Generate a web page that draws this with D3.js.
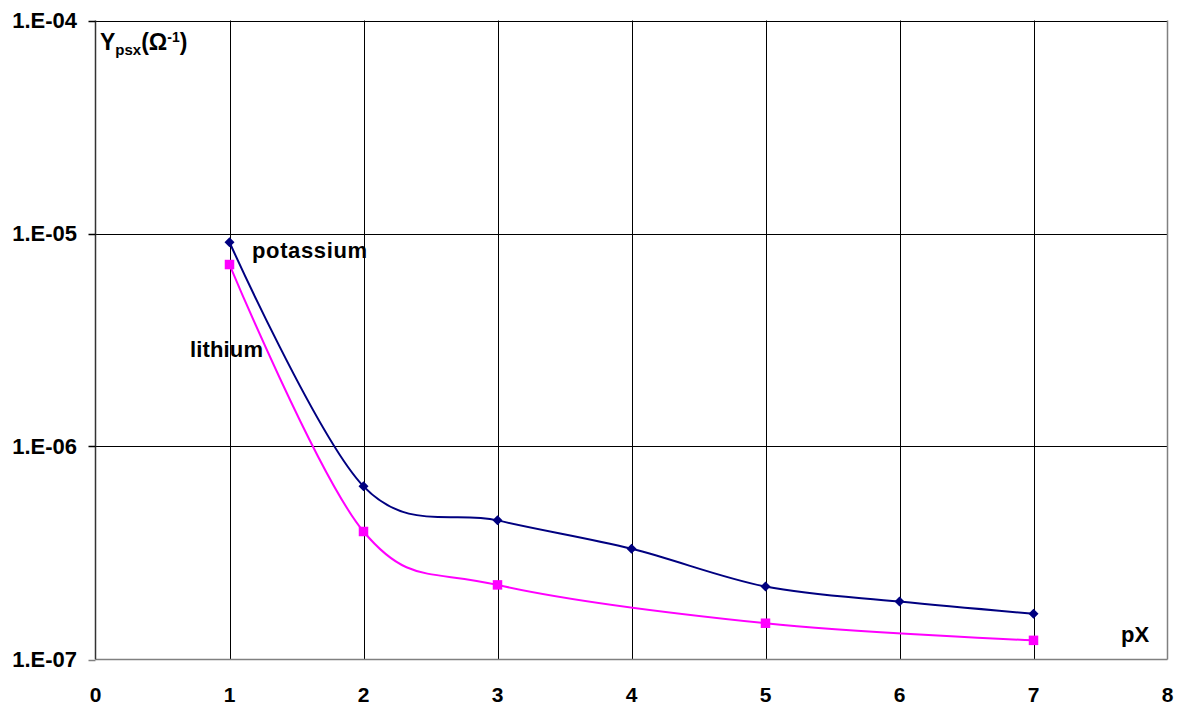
<!DOCTYPE html>
<html>
<head>
<meta charset="utf-8">
<script src="https://cdn.jsdelivr.net/npm/d3@7"></script>
<style>
  html, body { margin: 0; padding: 0; background: #fff; }
  svg { display: block; }
  text { font-family: "Liberation Sans", Arial, sans-serif; font-weight: bold; fill: #000; }
</style>
</head>
<body>
<svg id="chart" width="1179" height="707"></svg>
<script>
// ---- data ----
const potassiumX = [1, 2, 3, 4, 5, 6, 7];
const potassiumY = [9.1e-6, 6.5e-7, 4.5e-7, 3.31e-7, 2.2e-7, 1.87e-7, 1.64e-7];
const lithiumX = [1, 2, 3, 5, 7];
const lithiumY = [7.15e-6, 3.99e-7, 2.24e-7, 1.48e-7, 1.23e-7];
const xTicks = [0, 1, 2, 3, 4, 5, 6, 7, 8];
const yTicks = [1e-4, 1e-5, 1e-6, 1e-7];
const yTickLabels = ["1.E-04", "1.E-05", "1.E-06", "1.E-07"];

(function () {
// ---- layout ----
const pL = 95.5, pR = 1167.5, pT = 20.5, pB = 659.5;
const svg = d3.select("#chart");

const x = d3.scaleLinear().domain([0, 8]).range([pL, pR]);
const y = d3.scaleLog().domain([1e-7, 1e-4]).range([pB, pT]);

// gridlines
const g = svg.append("g");
g.selectAll("line.vg").data(xTicks.filter(d => d > 0 && d < 8)).enter().append("line")
  .attr("x1", d => Math.round(x(d)) + 0.5).attr("x2", d => Math.round(x(d)) + 0.5)
  .attr("y1", pT).attr("y2", pB)
  .attr("stroke", "#000").attr("stroke-width", 1);
g.selectAll("line.hg").data(yTicks.filter(d => d > 1e-7)).enter().append("line")
  .attr("x1", pL).attr("x2", pR)
  .attr("y1", d => Math.round(y(d)) + 0.5).attr("y2", d => Math.round(y(d)) + 0.5)
  .attr("stroke", "#000").attr("stroke-width", 1);

// frame: right & bottom gray, left black
svg.append("line").attr("x1", pR).attr("x2", pR).attr("y1", pT).attr("y2", pB)
  .attr("stroke", "#808080").attr("stroke-width", 1.5);
svg.append("line").attr("x1", pL).attr("x2", pR).attr("y1", pB).attr("y2", pB)
  .attr("stroke", "#808080").attr("stroke-width", 1.5);
svg.append("line").attr("x1", pL).attr("x2", pL).attr("y1", pT).attr("y2", pB)
  .attr("stroke", "#333").attr("stroke-width", 1.5);

// y ticks
svg.selectAll("line.yt").data(yTicks).enter().append("line")
  .attr("x1", pL - 7).attr("x2", pL)
  .attr("y1", d => Math.round(y(d)) + 0.5).attr("y2", d => Math.round(y(d)) + 0.5)
  .attr("stroke", d => d === 1e-7 ? "#808080" : "#000").attr("stroke-width", 1.5);
svg.selectAll("text.yl").data(yTicks).enter().append("text")
  .attr("x", 77).attr("y", d => y(d)).attr("dy", "0.36em")
  .attr("text-anchor", "end").attr("font-size", 22)
  .text((d, i) => yTickLabels[i]);

// x tick labels
svg.selectAll("text.xl").data(xTicks).enter().append("text")
  .attr("x", d => x(d)).attr("y", 702)
  .attr("text-anchor", "middle").attr("font-size", 21)
  .text(d => d);

// lines
const line = d3.line().x(d => x(d[0])).y(d => y(d[1])).curve(d3.curveCardinal.tension(0));
const kData = potassiumX.map((v, i) => [v, potassiumY[i]]);
const lData = lithiumX.map((v, i) => [v, lithiumY[i]]);

svg.append("path").datum(lData).attr("d", line)
  .attr("fill", "none").attr("stroke", "#FF00FF").attr("stroke-width", 2);
svg.append("path").datum(kData).attr("d", line)
  .attr("fill", "none").attr("stroke", "#000080").attr("stroke-width", 2);

// markers
svg.selectAll("rect.lm").data(lData).enter().append("rect")
  .attr("x", d => x(d[0]) - 4.75).attr("y", d => y(d[1]) - 4.75)
  .attr("width", 9.5).attr("height", 9.5).attr("fill", "#FF00FF");
svg.selectAll("path.km").data(kData).enter().append("path")
  .attr("d", d3.symbol().type(d3.symbolSquare).size(50))
  .attr("transform", d => `translate(${x(d[0])},${y(d[1])}) rotate(45)`)
  .attr("fill", "#000080");

// labels
svg.append("text").attr("x", 252).attr("y", 258).attr("font-size", 22)
  .attr("textLength", 115).attr("lengthAdjust", "spacing").text("potassium");
svg.append("text").attr("x", 190).attr("y", 357).attr("font-size", 22)
  .attr("textLength", 73).attr("lengthAdjust", "spacing").text("lithium");
svg.append("text").attr("x", 1121).attr("y", 642).attr("font-size", 22).text("pX");

// y title
const t = svg.append("text").attr("x", 100).attr("y", 50).attr("font-size", 23);
t.append("tspan").text("Y");
t.append("tspan").attr("font-size", 15).attr("dy", 5).text("psx");
t.append("tspan").attr("dy", -5).text("(Ω");
t.append("tspan").attr("font-size", 14).attr("dy", -8).text("-1");
t.append("tspan").attr("dy", 8).text(")");
})();
</script>
</body>
</html>
